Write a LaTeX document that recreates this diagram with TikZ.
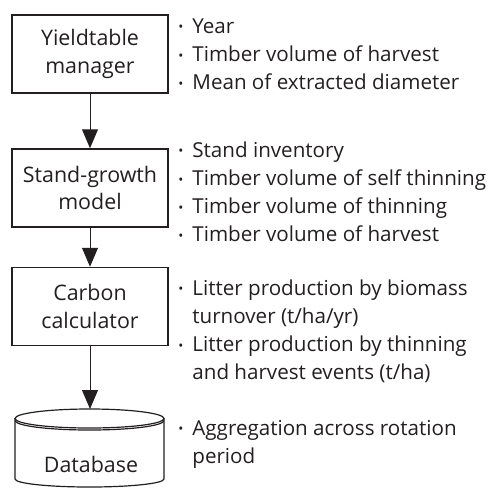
\documentclass[tikz,border=0pt]{standalone}
\usepackage{fontspec}
\setmainfont{Open Sans}
\usetikzlibrary{arrows.meta}
\definecolor{ink}{HTML}{231F20}
\newcommand{\bul}{\makebox[7pt][l]{\raisebox{0.6pt}{\scalebox{0.65}{\textbullet}}}}
\newcommand{\nxt}{\hspace*{7pt}}
\tikzset{
  every node/.style={font=\fontsize{10.3pt}{14.1pt}\selectfont, text=ink},
  boxtext/.style={font=\fontsize{10.7pt}{13.6pt}\selectfont},
  box/.style={boxtext, draw=ink, line width=0.75pt, minimum width=78pt, minimum height=39pt, align=center, inner sep=0pt},
  note/.style={anchor=base west, inner sep=0pt},
  arr/.style={-{Triangle[length=9.5pt,width=8pt]}, draw=ink, line width=0.5pt}
}

\begin{document}
\begin{tikzpicture}
      \useasboundingbox (0,0) rectangle (246pt,-244pt);
      \node [box] (1) at (45pt,-27pt) {Yieldtable\\manager};
      \node [box,below of=1,node distance=67pt] (2) {Stand-growth\\model};
      \node [box,below of=2,node distance=59.25pt] (3) {Carbon\\calculator};
      \node [boxtext,anchor=base,inner sep=0pt] (4) at (45.5pt,-236pt) {Database};
      \coordinate (4top) at (44.75pt,-204.5pt);

      \draw [ink,line width=0.6pt] (44.75pt,-209.25pt) ellipse [x radius=37.25pt,y radius=4.75pt];
      \draw [ink,line width=0.6pt] (7.5pt,-210.25pt) arc [start angle=180,end angle=360,x radius=37.25pt,y radius=4.75pt];
      \draw [ink,line width=0.6pt] (7.5pt,-209.25pt) -- (7.5pt,-239.5pt)
            arc [start angle=180,end angle=360,x radius=37.25pt,y radius=4pt] -- (82pt,-209.25pt);

      \node [note] (n1) at (89pt,-16.5pt) {\begin{tabular}[t]{@{}l@{}}
            \bul Year\\ \bul Timber volume of harvest\\ \bul Mean of extracted diameter\end{tabular}};
      \node [note] (n2) at (89pt,-78.5pt) {\begin{tabular}[t]{@{}l@{}}
            \bul Stand inventory\\ \bul Timber volume of self thinning\\
            \bul Timber volume of thinning\\ \bul Timber volume of harvest\end{tabular}};
      \node [note] (n3) at (89pt,-147.5pt) {\begin{tabular}[t]{@{}l@{}}
            \bul Litter production by biomass\\ \nxt turnover (t/ha/yr)\\
            \bul Litter production by thinning\\ \nxt and harvest events (t/ha)\end{tabular}};
      \node [note] (n4) at (89pt,-217.5pt) {\begin{tabular}[t]{@{}l@{}}
            \bul Aggregation across rotation\\ \nxt period\end{tabular}};

      \draw [arr] (1) -- (2);
      \draw [arr] (2) -- (3);
      \draw [arr] (3.south) -- (3.south |- 4top);
    \end{tikzpicture}
\end{document}
